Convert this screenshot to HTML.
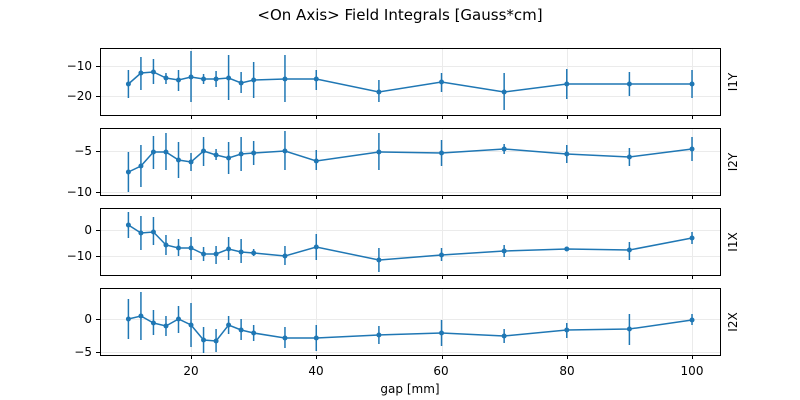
<!DOCTYPE html>
<html><head><meta charset="utf-8"><style>
html,body{margin:0;padding:0;background:#fff;}
svg{display:block;font-family:"DejaVu Sans","Liberation Sans",sans-serif;}
</style></head><body>
<svg id="s" width="800" height="400" xmlns="http://www.w3.org/2000/svg">
<rect width="800" height="400" fill="#fff"/>
<text x="400" y="20" font-size="15" text-anchor="middle">&lt;On Axis&gt; Field Integrals [Gauss*cm]</text>
<g id="grid" stroke="#ebebeb" stroke-width="1"></g>
<g id="data"></g>
<g fill="none" stroke="#000" stroke-width="1">
<rect x="100.5" y="48.5" width="620" height="67"/>
<rect x="100.5" y="128.5" width="620" height="67"/>
<rect x="100.5" y="208.5" width="620" height="67"/>
<rect x="100.5" y="288.5" width="620" height="67"/>
</g>
<g font-size="12" text-anchor="end">
<text x="92" y="70">−10</text><text x="92" y="100">−20</text>
<text x="92" y="155">−5</text><text x="92" y="196">−10</text>
<text x="92" y="234">0</text><text x="92" y="260">−10</text>
<text x="92" y="323">0</text><text x="92" y="356">−5</text>
</g>
<g font-size="12" text-anchor="middle">
<text x="191" y="375">20</text><text x="316" y="375">40</text><text x="441" y="375">60</text><text x="567" y="375">80</text><text x="692" y="375">100</text>
<text x="410" y="393">gap [mm]</text>
</g>
<g font-size="12" text-anchor="middle">
<text transform="translate(737,82) rotate(-90)">I1Y</text>
<text transform="translate(737,162) rotate(-90)">I2Y</text>
<text transform="translate(737,242) rotate(-90)">I1X</text>
<text transform="translate(737,322) rotate(-90)">I2X</text>
</g>
</svg>
<script>
var NS="http://www.w3.org/2000/svg";
function el(p,n,a){var e=document.createElementNS(NS,n);for(var k in a)e.setAttribute(k,a[k]);p.appendChild(e);return e;}
var xs=[10,12,14,16,18,20,22,24,26,28,30,35,40,50,60,70,80,90,100];
function X(v){return 128.4+(v-10)*6.2625;}
var grid=document.getElementById('grid'),data=document.getElementById('data');
var panels=[[48,[66,96]],[128,[151,192]],[208,[230,256]],[288,[319,352]]];
panels.forEach(function(p){
 [20,40,60,80,100].forEach(function(v){var x=Math.round(X(v))+.5;el(grid,'line',{x1:x,x2:x,y1:p[0],y2:p[0]+67});
  el(grid,'line',{x1:x,x2:x,y1:p[0]+67,y2:p[0]+71,stroke:'#000'});});
 p[1].forEach(function(y){el(grid,'line',{x1:100,x2:720,y1:y+.5,y2:y+.5});el(grid,'line',{x1:96,x2:100,y1:y+.5,y2:y+.5,stroke:'#000'});});
});
var S=[
[[84,70,98],[73,57,90],[72,59,84],[78,73,84],[80,70,91],[77,51,102],[79,74,84],[79,71,87],[78,55,100],[83,72,93],[80,62,98],[79,55,102],[79,70,90],[92,80,102],[82,73,92],[92,73,110],[84,69,99],[84,72,96],[84,70,98]],
[[172,152,192],[166,145,187],[152,136,169],[152,133,170],[160,142,178],[162,153,171],[151,137,166],[155,149,160],[158,142,174],[154,137,171],[153,141,165],[151,131,170],[161,150,170],[152,133,170],[153,140,166],[149,144,154],[154,145,163],[157,148,166],[149,137,161]],
[[225,212,238],[233,216,250],[232,217,245],[245,235,255],[248,239,256],[248,237,260],[254,247,261],[254,246,264],[249,237,260],[252,239,263],[253,249,256],[256,246,265],[247,234,260],[260,248,272],[255,248,261],[251,245,257],[249,248,250],[250,242,260],[238,232,244]],
[[319,299,339],[316,292,340],[323,310,335],[326,316,336],[319,306,333],[325,303,347],[340,327,353],[341,329,352],[325,316,334],[330,319,340],[333,325,341],[338,327,348],[338,325,351],[335,326,344],[333,320,346],[336,329,343],[330,323,338],[329,314,345],[320,314,325]]];
S.forEach(function(s){
 var pts=s.map(function(d,i){return X(xs[i])+','+d[0];}).join(' ');
 s.forEach(function(d,i){el(data,'line',{x1:X(xs[i]),x2:X(xs[i]),y1:d[1],y2:d[2],stroke:'#1f77b4','stroke-width':1.5});});
 el(data,'polyline',{points:pts,fill:'none',stroke:'#1f77b4','stroke-width':1.5});
 s.forEach(function(d,i){el(data,'circle',{cx:X(xs[i]),cy:d[0],r:2.5,fill:'#1f77b4'});});
});
</script>
</body></html>
